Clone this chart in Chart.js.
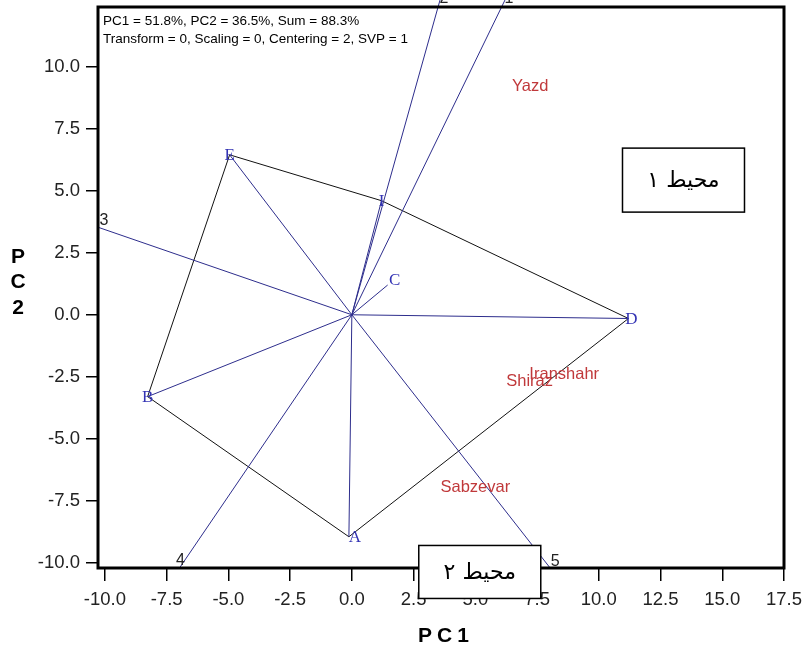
<!DOCTYPE html>
<html>
<head>
<meta charset="utf-8">
<script src="https://cdn.jsdelivr.net/npm/chart.js@4.4.0/dist/chart.umd.min.js"></script>
<style>
  html, body { margin: 0; padding: 0; background: #fff; }
  canvas { display: block; }
</style>
</head>
<body>
<canvas id="biplot" width="806" height="650"></canvas>
<script>
// Genotypes (blue vectors from the origin)
const genoLabels = ['A', 'B', 'C', 'D', 'E', 'I'];
const genoX = [-0.12, -8.27, 1.45, 11.2, -4.95, 1.2];
const genoY = [-8.95, -3.3, 1.2, -0.15, 6.45, 4.6];

// Convex hull (which-won-where polygon)
const polygonOrder = ['E', 'I', 'D', 'A', 'B', 'E'];

// Sector rays, perpendicular to the polygon sides
const rayLabels = ['1', '2', '3', '4', '5'];
const rayX = [6.2, 3.57, -10.28, -6.98, 8.03];
const rayY = [12.69, 12.69, 3.53, -10.21, -10.21];

// Environments (red labels)
const envLabels = ['Yazd', 'Iranshahr', 'Shiraz', 'Sabzevar'];
const envX = [7.22, 8.6, 7.2, 5.0];
const envY = [9.2, -2.4, -2.7, -6.95];

// Axis ticks
const xTicks = [-10, -7.5, -5, -2.5, 0, 2.5, 5, 7.5, 10, 12.5, 15, 17.5];
const yTicks = [-10, -7.5, -5, -2.5, 0, 2.5, 5, 7.5, 10];

const infoLines = [
    'PC1 = 51.8%, PC2 = 36.5%, Sum = 88.3%',
    'Transform = 0, Scaling = 0, Centering = 2, SVP = 1'
];

const LINE_BLUE = '#2d2d8c';
const LABEL_BLUE = '#3434b4';
const ENV_RED = '#c0393b';

const datasets = [];

// vectors to genotypes
genoLabels.forEach((g, i) => {
    datasets.push({
        data: [{ x: 0, y: 0 }, { x: genoX[i], y: genoY[i] }],
        borderColor: LINE_BLUE,
        borderWidth: 1
    });
});

// sector rays (the top two run past the frame)
rayLabels.forEach((r, i) => {
    datasets.push({
        data: [{ x: 0, y: 0 }, { x: rayX[i], y: rayY[i] }],
        borderColor: LINE_BLUE,
        borderWidth: 1,
        clip: rayY[i] > 12.5 ? false : undefined
    });
});

// polygon
datasets.push({
    data: polygonOrder.map(g => {
        const i = genoLabels.indexOf(g);
        return { x: genoX[i], y: genoY[i] };
    }),
    borderColor: '#111',
    borderWidth: 1
});

const labelPlugin = {
    id: 'labels',
    afterDraw(chart) {
        const ctx = chart.ctx;
        const xs = chart.scales.x, ys = chart.scales.y;
        const area = chart.chartArea;
        ctx.save();

        // frame
        ctx.strokeStyle = '#000';
        ctx.lineWidth = 3;
        ctx.strokeRect(area.left, area.top, area.right - area.left, area.bottom - area.top);

        // genotype labels
        ctx.font = '17px "Liberation Serif"';
        ctx.fillStyle = LABEL_BLUE;
        ctx.textAlign = 'center';
        ctx.textBaseline = 'middle';
        genoLabels.forEach((g, i) => {
            let px = xs.getPixelForValue(genoX[i]);
            let py = ys.getPixelForValue(genoY[i]);
            if (g === 'A') px += 6;
            if (g === 'C') { px += 7; py -= 5; }
            if (g === 'D') px += 3;
            ctx.fillText(g, px, py + 1);
        });

        // ray labels
        ctx.font = '16px "Liberation Sans"';
        ctx.fillStyle = '#222';
        const rayOff = [[4, 3], [4, 3], [6, -7], [1, -7], [5, -6]];
        rayLabels.forEach((r, i) => {
            const px = xs.getPixelForValue(rayX[i]) + rayOff[i][0];
            const py = ys.getPixelForValue(rayY[i]) + rayOff[i][1];
            if (i < 2) ctx.textBaseline = 'alphabetic'; else ctx.textBaseline = 'middle';
            ctx.fillText(r, px, py);
        });

        // environment labels
        ctx.font = '16.5px "Liberation Sans"';
        ctx.fillStyle = ENV_RED;
        ctx.textBaseline = 'middle';
        envLabels.forEach((e, i) => {
            ctx.fillText(e, xs.getPixelForValue(envX[i]), ys.getPixelForValue(envY[i]));
        });

        // info text
        ctx.font = '13.5px "Liberation Sans"';
        ctx.fillStyle = '#000';
        ctx.textAlign = 'left';
        ctx.fillText(infoLines[0], area.left + 5, area.top + 14);
        ctx.fillText(infoLines[1], area.left + 5, area.top + 32);

        // axis titles
        ctx.font = 'bold 21px "Liberation Sans"';
        ctx.textAlign = 'center';
        ctx.letterSpacing = '5px';
        ctx.fillText('PC1', (area.left + area.right) / 2 + 5, 636);
        ctx.letterSpacing = '0px';
        ['P', 'C', '2'].forEach((c, k) => ctx.fillText(c, 18, 257 + k * 25.5));

        // environment boxes (Persian)
        const boxes = [
            { text: 'محیط ۱', x: 13.43, y: 5.43, w: 122, h: 64 },
            { text: 'محیط ۲', x: 5.18, y: -10.37, w: 122, h: 53 }
        ];
        boxes.forEach(b => {
            const cx = xs.getPixelForValue(b.x), cy = ys.getPixelForValue(b.y);
            ctx.fillStyle = '#fff';
            ctx.fillRect(cx - b.w / 2, cy - b.h / 2, b.w, b.h);
            ctx.strokeStyle = '#000';
            ctx.lineWidth = 1.5;
            ctx.strokeRect(cx - b.w / 2, cy - b.h / 2, b.w, b.h);
            ctx.fillStyle = '#000';
            ctx.font = '22px "DejaVu Sans"';
            ctx.direction = 'rtl';
            ctx.textAlign = 'center';
            ctx.textBaseline = 'middle';
            ctx.fillText(b.text, cx, cy + 1);
            ctx.direction = 'ltr';
        });
        ctx.restore();
    }
};

new Chart(document.getElementById('biplot'), {
    type: 'scatter',
    data: { datasets: datasets },
    options: {
        responsive: false,
        animation: false,
        devicePixelRatio: 1,
        showLine: true,
        elements: { point: { radius: 0, hoverRadius: 0 }, line: { tension: 0 } },
        layout: { padding: { top: 7, right: 22, left: 0, bottom: 0 } },
        plugins: { legend: { display: false }, tooltip: { enabled: false } },
        scales: {
            x: {
                type: 'linear',
                min: -10.28,
                max: 17.5,
                afterBuildTicks: s => { s.ticks = xTicks.map(v => ({ value: v })); },
                afterFit: s => { s.height = 82; s.paddingLeft = 0; s.paddingRight = 0; },
                border: { display: false },
                grid: { drawOnChartArea: false, drawTicks: true, tickLength: 13, color: '#000', lineWidth: 1.5 },
                ticks: {
                    color: '#222',
                    font: { family: '"Liberation Sans"', size: 18.5 },
                    padding: 8,
                    maxRotation: 0,
                    callback: v => v.toFixed(1)
                }
            },
            y: {
                type: 'linear',
                min: -10.21,
                max: 12.41,
                afterBuildTicks: s => { s.ticks = yTicks.map(v => ({ value: v })); },
                afterFit: s => { s.width = 98; s.paddingTop = 0; s.paddingBottom = 0; },
                border: { display: false },
                grid: { drawOnChartArea: false, drawTicks: true, tickLength: 12, color: '#000', lineWidth: 1.5 },
                ticks: {
                    color: '#222',
                    font: { family: '"Liberation Sans"', size: 18.5 },
                    padding: 6,
                    callback: v => v.toFixed(1)
                }
            }
        }
    },
    plugins: [labelPlugin]
});
</script>
</body>
</html>
